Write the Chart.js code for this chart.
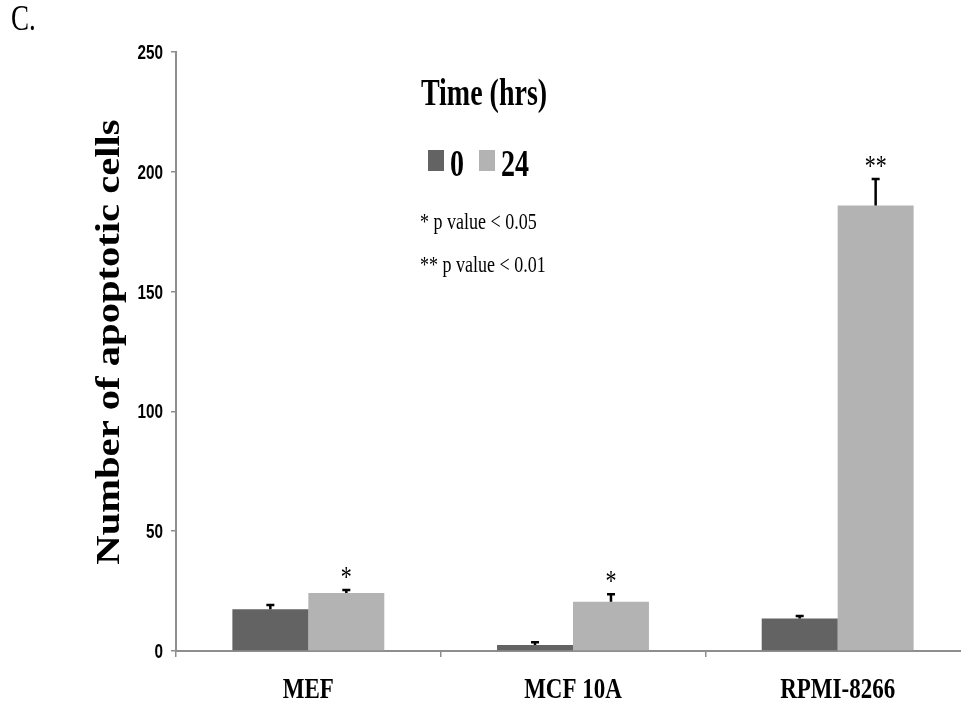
<!DOCTYPE html>
<html>
<head>
<meta charset="utf-8">
<title>Apoptotic cells</title>
<script src="https://cdn.jsdelivr.net/npm/chart.js@4.4.1/dist/chart.umd.min.js"></script>
<style>
  html, body { margin: 0; padding: 0; background: #fff; overflow: hidden; }
  #wrap { width: 961px; height: 706px; overflow: hidden; }
</style>
</head>
<body>
<div id="wrap"><canvas id="apoptosisChart" width="970" height="706"></canvas></div>
<script>
// datos
const categories = ['MEF', 'MCF 10A', 'RPMI-8266'];
const seriesNames = ['0', '24'];
const values0h = [17.4, 2.5, 13.6];
const values24h = [24.2, 20.6, 185.9];
const errors0h = [1.8, 1.2, 1.0];
const errors24h = [1.3, 3.1, 11.1];
const marks24h = ['*', '*', '**'];
const yMax = 250;
const yStep = 50;

const DARK = '#636363';
const LIGHT = '#b3b3b3';
const AXIS = '#8e8e8e';
const SERIF = '"Liberation Serif", "Times New Roman", serif';
const SANS = '"Liberation Sans", Arial, sans-serif';

// texto estirado en vertical (la figura original viene deformada)
function stretchText(ctx, text, x, y, font, sy, align, sx) {
    ctx.save();
    ctx.translate(x, y);
    ctx.scale(sx || 1, sy);
    ctx.font = font;
    ctx.textAlign = align || 'left';
    ctx.textBaseline = 'alphabetic';
    ctx.fillStyle = '#000';
    ctx.fillText(text, 0, 0);
    ctx.restore();
}

const errorBars = {
    id: 'errorBars',
    afterDatasetsDraw(chart) {
        const ctx = chart.ctx;
        const y = chart.scales.y;
        const errs = [errors0h, errors24h];
        chart.data.datasets.forEach((ds, i) => {
            chart.getDatasetMeta(i).data.forEach((bar, j) => {
                const top = y.getPixelForValue(ds.data[j] + errs[i][j]);
                ctx.save();
                ctx.strokeStyle = '#000';
                ctx.lineWidth = 2.5;
                ctx.beginPath();
                ctx.moveTo(bar.x, bar.y);
                ctx.lineTo(bar.x, top);
                ctx.moveTo(bar.x - 4, top);
                ctx.lineTo(bar.x + 4, top);
                ctx.stroke();
                ctx.restore();
                if (i === 1 && marks24h[j]) {
                    stretchText(ctx, marks24h[j], bar.x, top - 4, '22px ' + SERIF, 1.3, 'center');
                }
            });
        });
    },
    afterDraw(chart) {
        const ctx = chart.ctx;
        const x = chart.scales.x;
        const y = chart.scales.y;

        stretchText(ctx, 'C.', 11, 30, '27px ' + SERIF, 1.3, 'left');

        // etiquetas del eje Y (estrechas)
        y.ticks.forEach(t => {
            stretchText(ctx, String(t.value), 163, y.getPixelForValue(t.value) + 7, 'bold 18px ' + SANS, 1.1, 'right', 0.85);
        });

        // etiquetas de categoria
        categories.forEach((c, i) => {
            stretchText(ctx, c, x.getPixelForValue(i), 698, 'bold 23px ' + SERIF, 1.3, 'center');
        });

        // titulo eje Y
        ctx.save();
        ctx.translate(110, 342);
        ctx.rotate(-Math.PI / 2);
        ctx.scale(1.23, 1);
        ctx.font = 'bold 33px ' + SERIF;
        ctx.textAlign = 'center';
        ctx.textBaseline = 'middle';
        ctx.fillStyle = '#000';
        ctx.fillText('Number of apoptotic cells', 0, 0);
        ctx.restore();

        // leyenda
        stretchText(ctx, 'Time (hrs)', 484, 105, 'bold 28px ' + SERIF, 1.35, 'center');
        const legendItems = [
            { box: 428, text: 450 },
            { box: 479, text: 501 }
        ];
        chart.data.datasets.forEach((ds, i) => {
            ctx.fillStyle = ds.backgroundColor;
            ctx.fillRect(legendItems[i].box, 150, 16, 21);
            stretchText(ctx, ds.label, legendItems[i].text, 176, 'bold 28px ' + SERIF, 1.35, 'left');
        });

        stretchText(ctx, '* p value < 0.05', 420, 229, '18px ' + SERIF, 1.3, 'left');
        stretchText(ctx, '** p value < 0.01', 420, 272, '18px ' + SERIF, 1.3, 'left');
    }
};

document.addEventListener('DOMContentLoaded', function() {
    const ctx = document.getElementById('apoptosisChart');
    new Chart(ctx, {
        type: 'bar',
        data: {
            labels: categories,
            datasets: [
                { label: seriesNames[0], data: values0h, backgroundColor: DARK },
                { label: seriesNames[1], data: values24h, backgroundColor: LIGHT }
            ]
        },
        options: {
            responsive: false,
            animation: false,
            devicePixelRatio: 1,
            layout: { padding: { top: 52, right: 0, bottom: 0, left: 0 } },
            datasets: { bar: { categoryPercentage: 0.574, barPercentage: 1.0 } },
            plugins: { legend: { display: false }, tooltip: { enabled: false } },
            scales: {
                x: {
                    ticks: { display: false },
                    grid: { drawOnChartArea: false, drawTicks: true, tickLength: 6, color: AXIS, lineWidth: 1.5, offset: true },
                    border: { color: AXIS, width: 2 },
                    afterFit(scale) { scale.height = 55; }
                },
                y: {
                    min: 0, max: yMax,
                    ticks: { stepSize: yStep, display: false },
                    grid: { drawOnChartArea: false, drawTicks: true, tickLength: 5, color: AXIS, lineWidth: 1.5 },
                    border: { color: AXIS, width: 2 },
                    afterFit(scale) { scale.width = 176; }
                }
            }
        },
        plugins: [errorBars]
    });
});
</script>
</body>
</html>
